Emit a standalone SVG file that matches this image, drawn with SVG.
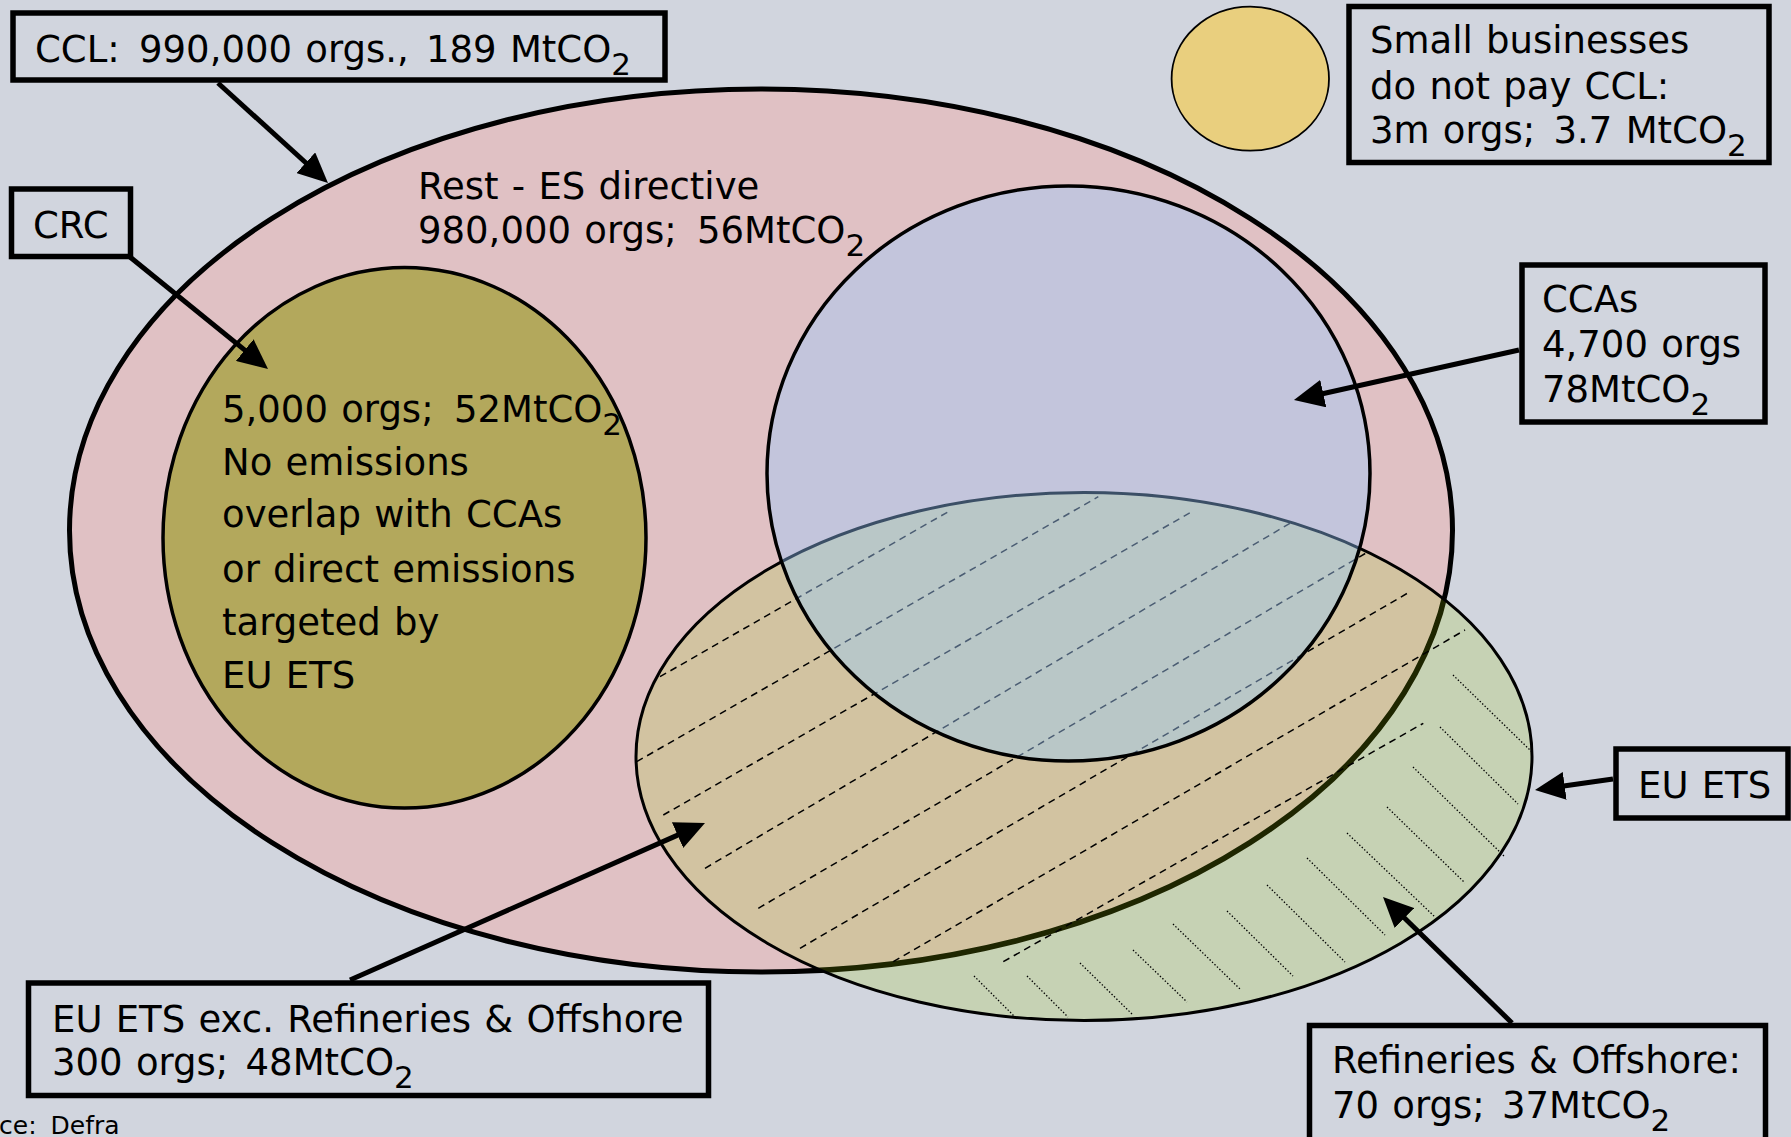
<svg xmlns="http://www.w3.org/2000/svg" xmlns:xlink="http://www.w3.org/1999/xlink" width="1791" height="1137" viewBox="0 0 1791 1137">
<style>
.t{font-family:"DejaVu Sans","Liberation Sans",sans-serif;font-size:37px;fill:#000;word-spacing:1.5px}
.sub{font-size:31px}
.box{fill:#d1d5de;stroke:#000;stroke-width:5.5}
.conn{stroke:#000;stroke-width:5;fill:none}
.dot{stroke:#000;stroke-width:1.3;stroke-dasharray:1.4 2;fill:none}
</style>
<defs>
<marker id="ah" markerUnits="userSpaceOnUse" markerWidth="30" markerHeight="28" refX="10" refY="14" orient="auto" viewBox="0 0 30 28">
<path d="M0,0 L30,14 L0,28 z" fill="#000"/>
</marker>
<clipPath id="cPink"><ellipse cx="761" cy="530.5" rx="691.5" ry="441.5"/></clipPath>
<clipPath id="cETS"><ellipse cx="1084" cy="756.5" rx="448" ry="264"/></clipPath>
<clipPath id="cCCA"><ellipse cx="1068.5" cy="473.5" rx="301.5" ry="287.5"/></clipPath>
<g id="dashes" fill="none" stroke-width="1.5" stroke-dasharray="7 5">
<line x1="660" y1="676.7" x2="948.3" y2="511.7"/>
<line x1="636.7" y1="761.7" x2="1098.3" y2="496.7"/>
<line x1="663.3" y1="815" x2="1191.7" y2="511.7"/>
<line x1="705" y1="868.3" x2="1290" y2="523.3"/>
<line x1="758.3" y1="908.3" x2="1368.3" y2="551.7"/>
<line x1="800" y1="948.3" x2="1410" y2="591.7"/>
<line x1="893.3" y1="961.7" x2="1465" y2="630"/>
<line x1="1003.3" y1="961.7" x2="1423.3" y2="723.3"/>
</g>
</defs>
<rect x="0" y="0" width="1791" height="1137" fill="#d1d5de"/>

<g id="ccl-set">
<ellipse cx="761" cy="530.5" rx="691.5" ry="441.5" fill="#e0c1c4" stroke="#000" stroke-width="5"/>
</g>

<g id="crc-set">
<ellipse cx="404.5" cy="537.8" rx="241.5" ry="270.3" fill="#b3a85c" stroke="#000" stroke-width="3.5"/>
</g>

<g id="euets-set">
<ellipse cx="1084" cy="756.5" rx="448" ry="264" fill="#c6d2b4"/>
<ellipse cx="1084" cy="756.5" rx="448" ry="264" fill="#d2c3a1" clip-path="url(#cPink)"/>
<ellipse cx="761" cy="530.5" rx="691.5" ry="441.5" fill="none" stroke="#1e2600" stroke-width="5.5" clip-path="url(#cETS)"/>
<use xlink:href="#dashes" href="#dashes" stroke="#000"/>
<g id="dots">
<line class="dot" x1="974" y1="976" x2="1015" y2="1017"/>
<line class="dot" x1="1027" y1="976" x2="1068" y2="1017"/>
<line class="dot" x1="1080" y1="963" x2="1133" y2="1015"/>
<line class="dot" x1="1133" y1="950" x2="1187" y2="1002"/>
<line class="dot" x1="1173" y1="924" x2="1240" y2="989"/>
<line class="dot" x1="1227" y1="911" x2="1293" y2="976"/>
<line class="dot" x1="1267" y1="885" x2="1345" y2="962"/>
<line class="dot" x1="1307" y1="858" x2="1385" y2="935"/>
<line class="dot" x1="1347" y1="833" x2="1435" y2="917"/>
<line class="dot" x1="1387" y1="807" x2="1465" y2="883"/>
<line class="dot" x1="1413" y1="767" x2="1505" y2="857"/>
<line class="dot" x1="1440" y1="727" x2="1518" y2="804"/>
<line class="dot" x1="1453" y1="675" x2="1532" y2="752"/>
</g>
<ellipse cx="1084" cy="756.5" rx="448" ry="264" fill="none" stroke="#000" stroke-width="3"/>
</g>

<g id="cca-set">
<ellipse cx="1068.5" cy="473.5" rx="301.5" ry="287.5" fill="#c3c5dc"/>
<ellipse cx="1084" cy="756.5" rx="448" ry="264" fill="#b9c7c7" clip-path="url(#cCCA)"/>
<use xlink:href="#dashes" href="#dashes" stroke="#4b5d73" clip-path="url(#cCCA)"/>
<ellipse cx="1084" cy="756.5" rx="448" ry="264" fill="none" stroke="#3b4f66" stroke-width="3" clip-path="url(#cCCA)"/>
<ellipse cx="1068.5" cy="473.5" rx="301.5" ry="287.5" fill="none" stroke="#000" stroke-width="3.5"/>
</g>

<g id="small-set">
<ellipse cx="1250.3" cy="78.7" rx="78.7" ry="72" fill="#e9cf7e" stroke="#000" stroke-width="1.8"/>
</g>

<g id="connectors">
<line class="conn" x1="218" y1="83" x2="313.2" y2="169.5" marker-end="url(#ah)"/>
<line class="conn" x1="130" y1="257" x2="252.5" y2="356.4" marker-end="url(#ah)"/>
<line class="conn" x1="1519" y1="350" x2="1313.5" y2="395.7" marker-end="url(#ah)"/>
<line class="conn" x1="1613" y1="779" x2="1554.8" y2="787.2" marker-end="url(#ah)"/>
<line class="conn" x1="1512" y1="1023" x2="1397.3" y2="911" marker-end="url(#ah)"/>
<line class="conn" x1="350" y1="980" x2="686.7" y2="831.1" marker-end="url(#ah)"/>
</g>

<g id="label-ccl">
<rect class="box" x="13" y="13" width="652" height="67"/>
<text class="t" x="35" y="62">CCL:<tspan dx="6"> 990,000 orgs.,</tspan><tspan dx="4"> 189 MtCO</tspan><tspan class="sub" dy="13">2</tspan></text>
</g>

<g id="label-rest">
<text class="t" x="418" y="199">Rest - ES directive</text>
<text class="t" x="418" y="243">980,000 orgs;<tspan dx="7"> 56MtCO</tspan><tspan class="sub" dy="13">2</tspan></text>
</g>

<g id="label-crc">
<rect class="box" x="11.5" y="189" width="119" height="67.5"/>
<text class="t" x="33" y="238">CRC</text>
</g>

<g id="label-crc-detail">
<text class="t" x="222" y="421.7">5,000 orgs;<tspan dx="7"> 52MtCO</tspan><tspan class="sub" dy="13">2</tspan></text>
<text class="t" x="222" y="475">No emissions</text>
<text class="t" x="222" y="527.3">overlap with CCAs</text>
<text class="t" x="222" y="581.7">or direct emissions</text>
<text class="t" x="222" y="635">targeted by</text>
<text class="t" x="222" y="688.3">EU ETS</text>
</g>

<g id="label-small">
<rect class="box" x="1349" y="6.5" width="420" height="156"/>
<text class="t" x="1370" y="53">Small businesses</text>
<text class="t" x="1370" y="99">do not pay CCL:</text>
<text class="t" x="1370" y="143">3m orgs;<tspan dx="5"> 3.7 MtCO</tspan><tspan class="sub" dy="13">2</tspan></text>
</g>

<g id="label-cca">
<rect class="box" x="1522" y="265" width="243" height="157"/>
<text class="t" x="1542" y="312">CCAs</text>
<text class="t" x="1542" y="357">4,700 orgs</text>
<text class="t" x="1542" y="402">78MtCO<tspan class="sub" dy="13">2</tspan></text>
</g>

<g id="label-euets">
<rect class="box" x="1616" y="749" width="172" height="69"/>
<text class="t" x="1638" y="798">EU ETS</text>
</g>

<g id="label-refineries">
<rect class="box" x="1309.5" y="1025.5" width="456" height="130"/>
<text class="t" x="1332" y="1073">Refineries &amp; Offshore:</text>
<text class="t" x="1332" y="1118">70 orgs;<tspan dx="4"> 37MtCO</tspan><tspan class="sub" dy="13">2</tspan></text>
</g>

<g id="label-euets-exc">
<rect class="box" x="28.5" y="983" width="680" height="112.5"/>
<text class="t" x="52" y="1032">EU ETS exc. Refineries &amp; Offshore</text>
<text class="t" x="52" y="1075">300 orgs;<tspan dx="4"> 48MtCO</tspan><tspan class="sub" dy="13">2</tspan></text>
</g>

<g id="source">
<text class="t" x="-1" y="1134" style="font-size:25px;word-spacing:6px">ce: Defra</text>
</g>
</svg>
